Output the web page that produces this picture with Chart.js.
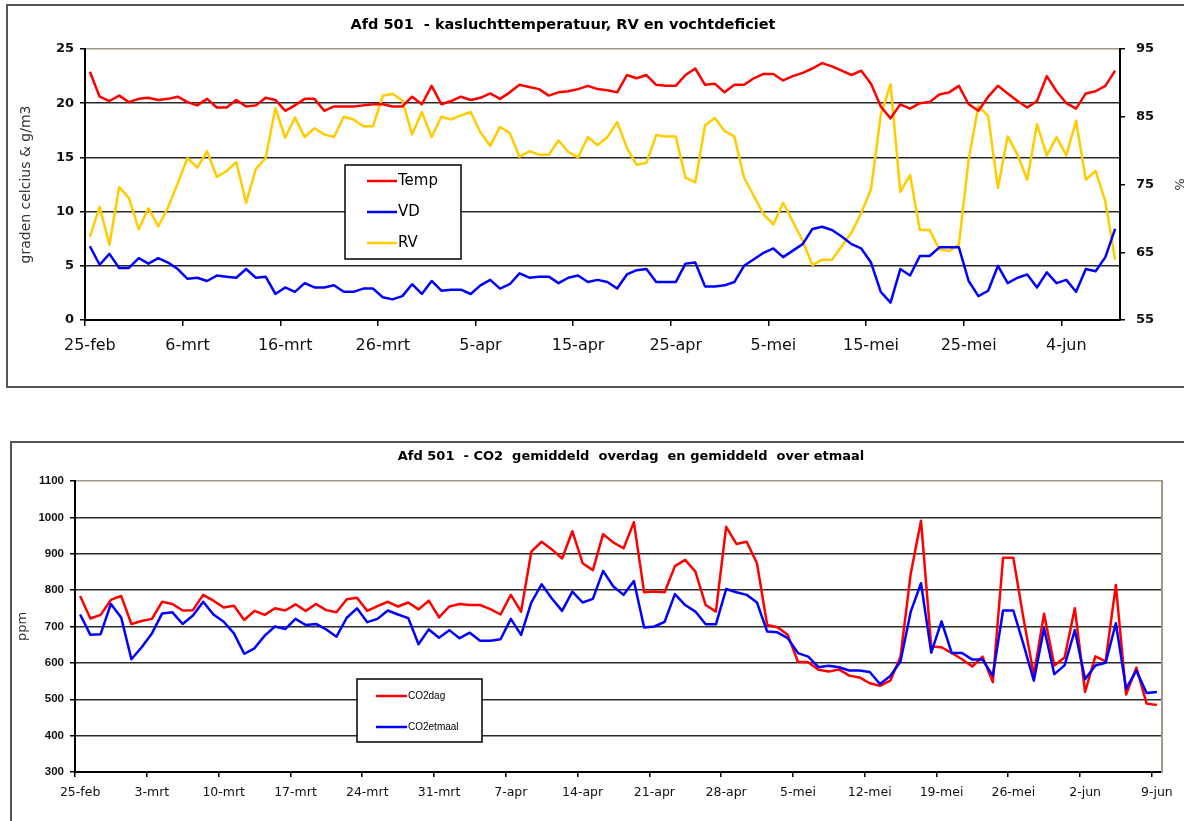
<!DOCTYPE html>
<html>
<head>
<meta charset="utf-8">
<script src="https://cdn.jsdelivr.net/npm/chart.js@4.4.0/dist/chart.umd.min.js"></script>
<style>
  html, body { margin: 0; padding: 0; background: #fff; overflow: hidden; }
  body { width: 1184px; height: 821px; position: relative; }
  .frame { position: absolute; border: 2px solid #555; box-sizing: border-box; }
  #frameTop { left: 6px; top: 4px; width: 1200px; height: 384px; }
  #frameBottom { left: 10px; top: 441px; width: 1200px; height: 420px; }
  canvas { position: absolute; }
  #chartTop { left: 8px; top: 6px; }
  #chartBottom { left: 12px; top: 443px; }
</style>
</head>
<body>
<div class="frame" id="frameTop"></div>
<div class="frame" id="frameBottom"></div>
<canvas id="chartTop" width="1188" height="378"></canvas>
<canvas id="chartBottom" width="1172" height="378"></canvas>
<script>
// dagen 25-feb t/m 9-jun (2008)
const monthNames = ['jan', 'feb', 'mrt', 'apr', 'mei', 'jun'];
let days = [];
let d = new Date(2008, 1, 25);
for (let i = 0; i < 106; i++) {
  days.push(d.getDate() + '-' + monthNames[d.getMonth()]);
  d.setDate(d.getDate() + 1);
}

const topTicks = ['25-feb', '6-mrt', '16-mrt', '26-mrt', '5-apr', '15-apr', '25-apr', '5-mei', '15-mei', '25-mei', '4-jun'];
const bottomTicks = ['25-feb', '3-mrt', '10-mrt', '17-mrt', '24-mrt', '31-mrt', '7-apr', '14-apr', '21-apr', '28-apr', '5-mei', '12-mei', '19-mei', '26-mei', '2-jun', '9-jun'];

// kasluchttemperatuur (graden C)
const temp = [
  22.9, 20.6, 20.2, 20.7, 20.1, 20.4, 20.5, 20.3, 20.4, 20.6, 20.1, 19.8, 20.4, 19.6, 19.6, 20.3,
  19.7, 19.8, 20.5, 20.3, 19.3, 19.8, 20.4, 20.4, 19.3, 19.7, 19.7, 19.7, 19.8, 19.9, 19.9, 19.7,
  19.7, 20.6, 19.9, 21.6, 19.9, 20.2, 20.6, 20.3, 20.5, 20.9, 20.4, 21.0, 21.7, 21.5, 21.3, 20.7,
  21.0, 21.1, 21.3, 21.6, 21.3, 21.2, 21.0, 22.6, 22.3, 22.6, 21.7, 21.6, 21.6, 22.6, 23.2, 21.7,
  21.8, 21.0, 21.7, 21.7, 22.3, 22.7, 22.7, 22.1, 22.5,
  22.8, 23.2, 23.7, 23.4, 23.0, 22.6, 23.0, 21.8, 19.7, 18.6, 19.9, 19.5, 20.0, 20.1, 20.8, 21.0,
  21.6, 19.9, 19.3, 20.6, 21.6, 20.9, 20.2, 19.6, 20.2, 22.5, 21.1, 20.0, 19.5, 20.9, 21.1, 21.6, 23.0
];
// vochtdeficiet (g/m3)
const vd = [
  6.8, 5.1, 6.1, 4.8, 4.8, 5.7, 5.2, 5.7, 5.3, 4.7, 3.8, 3.9, 3.6, 4.1, 4.0, 3.9,
  4.7, 3.9, 4.0, 2.4, 3.0, 2.6, 3.4, 3.0, 3.0, 3.2, 2.6, 2.6, 2.9, 2.9, 2.1, 1.9,
  2.2, 3.3, 2.4, 3.6, 2.7, 2.8, 2.8, 2.4, 3.2, 3.7, 2.9, 3.3, 4.3, 3.9, 4.0, 4.0,
  3.4, 3.9, 4.1, 3.5, 3.7, 3.5, 2.9, 4.2, 4.6, 4.7, 3.5, 3.5, 3.5, 5.2, 5.3, 3.1,
  3.1, 3.2, 3.5, 5.0, 5.6, 6.2, 6.6, 5.8, 6.4,
  7.0, 8.4, 8.6, 8.3, 7.7, 7.0, 6.6, 5.3, 2.6, 1.6, 4.7, 4.1, 5.9, 5.9, 6.7, 6.7,
  6.7, 3.6, 2.2, 2.7, 5.0, 3.4, 3.9, 4.2, 3.0, 4.4, 3.4, 3.7, 2.6, 4.7, 4.5, 5.8, 8.4
];
// relatieve vochtigheid (%)
const rv = [
  67.3, 71.7, 66.1, 74.6, 73.0, 68.4, 71.5, 68.8, 71.6, 75.2, 78.9, 77.5, 79.9, 76.1, 77.0, 78.3,
  72.3, 77.3, 78.9, 86.3, 81.9, 84.9, 82.0, 83.3, 82.4, 82.0, 85.0, 84.6, 83.6, 83.6, 88.1, 88.4,
  87.4, 82.4, 85.7, 82.0, 85.0, 84.6, 85.2, 85.7, 82.7, 80.7, 83.5, 82.6, 79.1, 79.9, 79.4, 79.4,
  81.5, 79.8, 79.0, 82.0, 80.8, 82.0, 84.2, 80.4, 77.9, 78.2, 82.3, 82.1, 82.1, 76.0, 75.3, 83.7,
  84.8, 82.9, 82.1, 76.0, 73.3, 70.6, 69.1, 72.3, 69.5,
  66.7, 63.1, 63.9, 63.9, 65.9, 67.9, 70.8, 74.3, 85.3, 89.8, 73.9, 76.4, 68.3, 68.3, 65.4, 65.2,
  66.1, 78.7, 86.6, 85.1, 74.5, 82.1, 79.4, 75.7, 83.9, 79.3, 82.0, 79.3, 84.4, 75.7, 77.0, 72.5, 63.9
];

// CO2 (ppm)
const co2dag = [
  784, 722, 732, 773, 784, 707, 715, 721, 768, 762, 744, 745, 787, 771, 752, 757,
  718, 743, 732, 750, 744, 761, 743, 762, 745, 739, 775, 779, 743, 756, 768, 755,
  766, 747, 771, 725, 755, 762, 759, 759, 748, 733, 787, 741, 906, 933, 912, 887,
  962, 874, 855, 954, 931, 915, 987, 794, 796, 794, 866, 883, 851, 759, 741, 974,
  927, 933, 874, 704, 698, 677, 603,
  602, 581, 576, 582, 565, 560, 544, 537, 551, 617, 846, 991, 645, 643, 627, 610,
  590, 617, 547, 889, 889, 721, 567, 735, 593, 615, 750, 520, 618, 604, 814, 513, 587, 488, 484
];
const co2etmaal = [
  733, 677, 679, 762, 725, 610, 643, 681, 736, 739, 707, 730, 768, 733, 713, 681,
  625, 640, 675, 700, 693, 721, 704, 707, 692, 672, 724, 750, 712, 721, 744, 733,
  723, 651, 692, 669, 690, 668, 683, 661, 661, 665, 721, 677, 766, 816, 777, 743,
  796, 766, 776, 853, 810, 787, 825, 697, 700, 713, 789, 759, 741, 706, 706, 803,
  794, 787, 766, 686, 684, 668, 627,
  617, 588, 592, 588, 579, 579, 575, 542, 564, 604, 741, 819, 628, 714, 627, 627,
  609, 609, 565, 744, 744, 650, 551, 695, 569, 593, 690, 555, 593, 600, 709, 529, 579, 517, 520
];

const verdana = "'DejaVu Sans', Verdana, sans-serif";
const arial = "'Liberation Sans', Arial, sans-serif";
const tan = '#a39882';
const gridDark = '#2a2a2a';

// titel in de grafiek, op vaste plek zoals in Excel
const titlePlugin = {
  id: 'excelTitle',
  afterDraw(chart, args, opts) {
    const ctx = chart.ctx;
    ctx.save();
    ctx.font = opts.font;
    ctx.fillStyle = '#000';
    ctx.textAlign = 'center';
    ctx.textBaseline = 'middle';
    ctx.fillText(opts.text, opts.x, opts.y);
    ctx.restore();
  }
};

// legenda-kader binnen het plotgebied
const legendPlugin = {
  id: 'excelLegend',
  afterDraw(chart, args, opts) {
    const ctx = chart.ctx;
    ctx.save();
    ctx.fillStyle = '#fff';
    ctx.fillRect(opts.x, opts.y, opts.w, opts.h);
    ctx.strokeStyle = '#000';
    ctx.lineWidth = 1.5;
    ctx.strokeRect(opts.x, opts.y, opts.w, opts.h);
    ctx.font = opts.font;
    ctx.textBaseline = 'middle';
    chart.data.datasets.forEach(function(ds, i) {
      let y = opts.y + opts.firstRow + i * opts.rowGap;
      ctx.strokeStyle = ds.borderColor;
      ctx.lineWidth = ds.borderWidth;
      ctx.beginPath();
      ctx.moveTo(opts.x + opts.lineStart, y);
      ctx.lineTo(opts.x + opts.lineEnd, y);
      ctx.stroke();
      ctx.fillStyle = '#000';
      ctx.fillText(ds.label, opts.x + opts.lineEnd + 1, y);
    });
    ctx.restore();
  }
};

function markColor(c) {
  return c.tick && c.tick.label ? '#000' : 'rgba(0,0,0,0)';
}

let topChart = new Chart(document.getElementById('chartTop').getContext('2d'), {
  type: 'line',
  data: {
    labels: days,
    datasets: [
      { label: 'Temp', data: temp, yAxisID: 'y', borderColor: '#ff0000', borderWidth: 2.5 },
      { label: 'VD', data: vd, yAxisID: 'y', borderColor: '#0000ff', borderWidth: 2.5 },
      { label: 'RV', data: rv, yAxisID: 'y2', borderColor: '#ffcc00', borderWidth: 2.5 }
    ]
  },
  plugins: [titlePlugin, legendPlugin],
  options: {
    responsive: false,
    animation: false,
    layout: { padding: { top: 43, right: 7, left: 0, bottom: 0 } },
    elements: {
      point: { radius: 0 },
      line: { tension: 0, fill: false, borderJoinStyle: 'round' }
    },
    plugins: {
      legend: { display: false },
      tooltip: { enabled: false },
      excelTitle: {
        text: 'Afd 501  - kasluchttemperatuur, RV en vochtdeficiet',
        x: 555, y: 19, font: 'bold 14.5px ' + verdana
      },
      excelLegend: {
        x: 337, y: 159, w: 116, h: 94, firstRow: 16, rowGap: 31,
        lineStart: 22, lineEnd: 52, font: '15px ' + verdana
      }
    },
    scales: {
      x: {
        offset: true,
        grid: { offset: true, drawOnChartArea: false, tickLength: 6, lineWidth: 1.5, color: markColor, tickColor: markColor },
        border: { color: '#000', width: 2 },
        ticks: {
          autoSkip: false, maxRotation: 0, minRotation: 0, padding: 10, color: '#111',
          font: { family: verdana, size: 16 },
          callback: function(v) {
            let l = this.getLabelForValue(v);
            return topTicks.indexOf(l) >= 0 ? l : '';
          }
        },
        afterFit: function(s) { s.height = 64; }
      },
      y: {
        position: 'left',
        min: 0, max: 25,
        ticks: { stepSize: 5, padding: 6, color: '#111', font: { family: verdana, size: 13, weight: 'bold' }, callback: v => v },
        grid: {
          lineWidth: 1.5, tickLength: 5, tickColor: '#000',
          color: c => (c.tick && c.tick.value === 25 ? tan : gridDark)
        },
        border: { color: '#000', width: 2 },
        title: { display: true, text: 'graden celcius & g/m3', color: '#333', font: { family: verdana, size: 14 }, padding: { top: 10, bottom: 0 } },
        afterFit: function(s) { s.width = 77; }
      },
      y2: {
        position: 'right',
        min: 55, max: 95,
        ticks: { stepSize: 10, padding: 11, color: '#111', font: { family: verdana, size: 13, weight: 'bold' }, callback: v => v },
        grid: { drawOnChartArea: false, tickLength: 5, lineWidth: 1.5, color: '#000' },
        border: { color: '#000', width: 2 },
        title: { display: true, text: '%', color: '#333', font: { family: verdana, size: 13 }, padding: { top: 3, bottom: 0 } },
        afterFit: function(s) { s.width = 69; }
      }
    }
  }
});

let bottomChart = new Chart(document.getElementById('chartBottom').getContext('2d'), {
  type: 'line',
  data: {
    labels: days,
    datasets: [
      { label: 'CO2dag', data: co2dag, borderColor: '#ff0000', borderWidth: 2.5, order: 1 },
      { label: 'CO2etmaal', data: co2etmaal, borderColor: '#0000ff', borderWidth: 2.5, order: 0 }
    ]
  },
  plugins: [titlePlugin, legendPlugin],
  options: {
    responsive: false,
    animation: false,
    layout: { padding: { top: 38, right: 22, left: 0, bottom: 0 } },
    elements: {
      point: { radius: 0 },
      line: { tension: 0, fill: false, borderJoinStyle: 'round' }
    },
    plugins: {
      legend: { display: false },
      tooltip: { enabled: false },
      excelTitle: {
        text: 'Afd 501  - CO2  gemiddeld  overdag  en gemiddeld  over etmaal',
        x: 619, y: 14, font: 'bold 13px ' + verdana
      },
      excelLegend: {
        x: 345, y: 236, w: 125, h: 63, firstRow: 17, rowGap: 31,
        lineStart: 19, lineEnd: 50, font: '10px ' + arial
      }
    },
    scales: {
      x: {
        offset: true,
        grid: { offset: true, drawOnChartArea: false, tickLength: 5, lineWidth: 1.5, color: markColor, tickColor: markColor },
        border: { color: '#000', width: 2 },
        ticks: {
          autoSkip: false, maxRotation: 0, minRotation: 0, padding: 8.5, color: '#111',
          font: { family: verdana, size: 12.5 },
          callback: function(v) {
            let l = this.getLabelForValue(v);
            return bottomTicks.indexOf(l) >= 0 ? l : '';
          }
        },
        afterFit: function(s) { s.height = 49; }
      },
      y: {
        position: 'left',
        min: 300, max: 1100,
        ticks: { stepSize: 100, padding: 6, color: '#111', font: { family: arial, size: 11.5, weight: 'bold' }, callback: v => v },
        grid: {
          lineWidth: 1.5, tickLength: 5, tickColor: '#000',
          color: c => (c.tick && c.tick.value === 1100 ? tan : gridDark)
        },
        border: { color: '#000', width: 2 },
        title: { display: true, text: 'ppm', color: '#333', font: { family: verdana, size: 13 }, padding: { top: 3, bottom: 0 } },
        afterFit: function(s) { s.width = 63; }
      },
      yR: {
        position: 'right',
        min: 300, max: 1100,
        ticks: { display: false },
        grid: { drawOnChartArea: false, drawTicks: false },
        border: { color: tan, width: 2 },
        afterFit: function(s) { s.width = 0; }
      }
    }
  }
});
</script>
</body>
</html>
